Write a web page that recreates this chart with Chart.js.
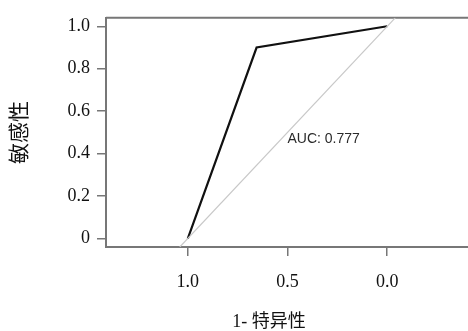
<!DOCTYPE html>
<html>
<head>
<meta charset="utf-8">
<script src="https://cdn.jsdelivr.net/npm/chart.js@4"></script>
<style>
    html, body { margin: 0; padding: 0; background: #fff; overflow: hidden; }
    #wrap { width: 471px; height: 331px; position: relative; }
</style>
</head>
<body>
<div id="wrap"><canvas id="rocChart"></canvas></div>
<script>
// ROC data (specificity reversed on x axis)
const specificity = [1.0, 0.655, 0.0];
const sensitivity = [0.0, 0.9, 1.0];

// Axis ticks
const xTicks = [1.0, 0.5, 0.0];
const yTicks = [0, 0.2, 0.4, 0.6, 0.8, 1.0];
const yTickLabels = ['0', '0.2', '0.4', '0.6', '0.8', '1.0'];

// Axis range (R-style 4% padding)
const xRange = [-0.41, 1.41];
const yRange = [-0.04, 1.04];

// Labels
const xTitle = '1- 特异性';
const yTitle = '敏感性';
const aucLabel = 'AUC: 0.777';
const aucPos = [0.5, 0.466];

const frameColor = '#777';

const rocPoints = specificity.map((s, i) => ({ x: s, y: sensitivity[i] }));
// chance line sens = 1 - spec, across the y range
const chancePoints = [
    { x: 1 - yRange[0], y: yRange[0] },
    { x: 1 - yRange[1], y: yRange[1] }
];

// draws top/right frame, AUC text and x-axis title
const extrasPlugin = {
    id: 'extras',
    beforeDatasetsDraw(chart) {
        const { ctx, chartArea: a } = chart;
        ctx.save();
        ctx.strokeStyle = frameColor;
        ctx.lineWidth = 2;
        ctx.beginPath();
        ctx.moveTo(a.left, a.top);
        ctx.lineTo(a.right, a.top);
        ctx.lineTo(a.right, a.bottom);
        ctx.stroke();
        ctx.restore();
    },
    afterDraw(chart) {
        const { ctx, scales } = chart;
        ctx.save();
        ctx.fillStyle = '#2a2a2a';
        ctx.font = '14px "Liberation Sans", Arial, sans-serif';
        ctx.textAlign = 'left';
        ctx.textBaseline = 'middle';
        ctx.fillText(aucLabel, scales.x.getPixelForValue(aucPos[0]), scales.y.getPixelForValue(aucPos[1]));

        ctx.fillStyle = '#111';
        ctx.font = '18px "Liberation Serif", "Noto Sans CJK SC", serif';
        ctx.textAlign = 'center';
        ctx.fillText(xTitle, 269, 322);
        ctx.restore();
    }
};

const ctx = document.getElementById('rocChart').getContext('2d');
new Chart(ctx, {
    type: 'scatter',
    data: {
        datasets: [
            {
                data: chancePoints,
                showLine: true,
                borderColor: '#c8c8c8',
                borderWidth: 1.2,
                pointRadius: 0
            },
            {
                data: rocPoints,
                showLine: true,
                borderColor: '#111',
                borderWidth: 2.2,
                pointRadius: 0
            }
        ]
    },
    options: {
        responsive: true,
        maintainAspectRatio: false,
        animation: false,
        devicePixelRatio: 1,
        layout: { padding: { left: 0, top: 13, right: 2, bottom: 0 } },
        plugins: {
            legend: { display: false },
            tooltip: { enabled: false }
        },
        scales: {
            x: {
                type: 'linear',
                reverse: true,
                min: xRange[0],
                max: xRange[1],
                afterFit: s => { s.height = 84; },
                afterBuildTicks: s => { s.ticks = xTicks.map(v => ({ value: v })); },
                grid: { drawOnChartArea: false, tickLength: 9, color: frameColor, lineWidth: 1.5 },
                border: { display: true, color: frameColor, width: 2 },
                ticks: {
                    padding: 15,
                    color: '#111',
                    font: { family: '"Liberation Serif", serif', size: 18 },
                    callback: v => Number(v).toFixed(1)
                }
            },
            y: {
                type: 'linear',
                min: yRange[0],
                max: yRange[1],
                afterFit: s => { s.width = 106; },
                afterBuildTicks: s => { s.ticks = yTicks.map(v => ({ value: v })); },
                grid: { drawOnChartArea: false, tickLength: 9, color: frameColor, lineWidth: 1.5 },
                border: { display: true, color: frameColor, width: 2 },
                ticks: {
                    padding: 7,
                    color: '#111',
                    font: { family: '"Liberation Serif", serif', size: 18 },
                    callback: (v) => yTickLabels[yTicks.indexOf(v)] ?? ''
                },
                title: {
                    display: true,
                    text: yTitle,
                    color: '#111',
                    padding: { top: 8, bottom: 0 },
                    font: { family: '"Liberation Serif", "Noto Sans CJK SC", serif', size: 21 }
                }
            }
        }
    },
    plugins: [extrasPlugin]
});
</script>
</body>
</html>
